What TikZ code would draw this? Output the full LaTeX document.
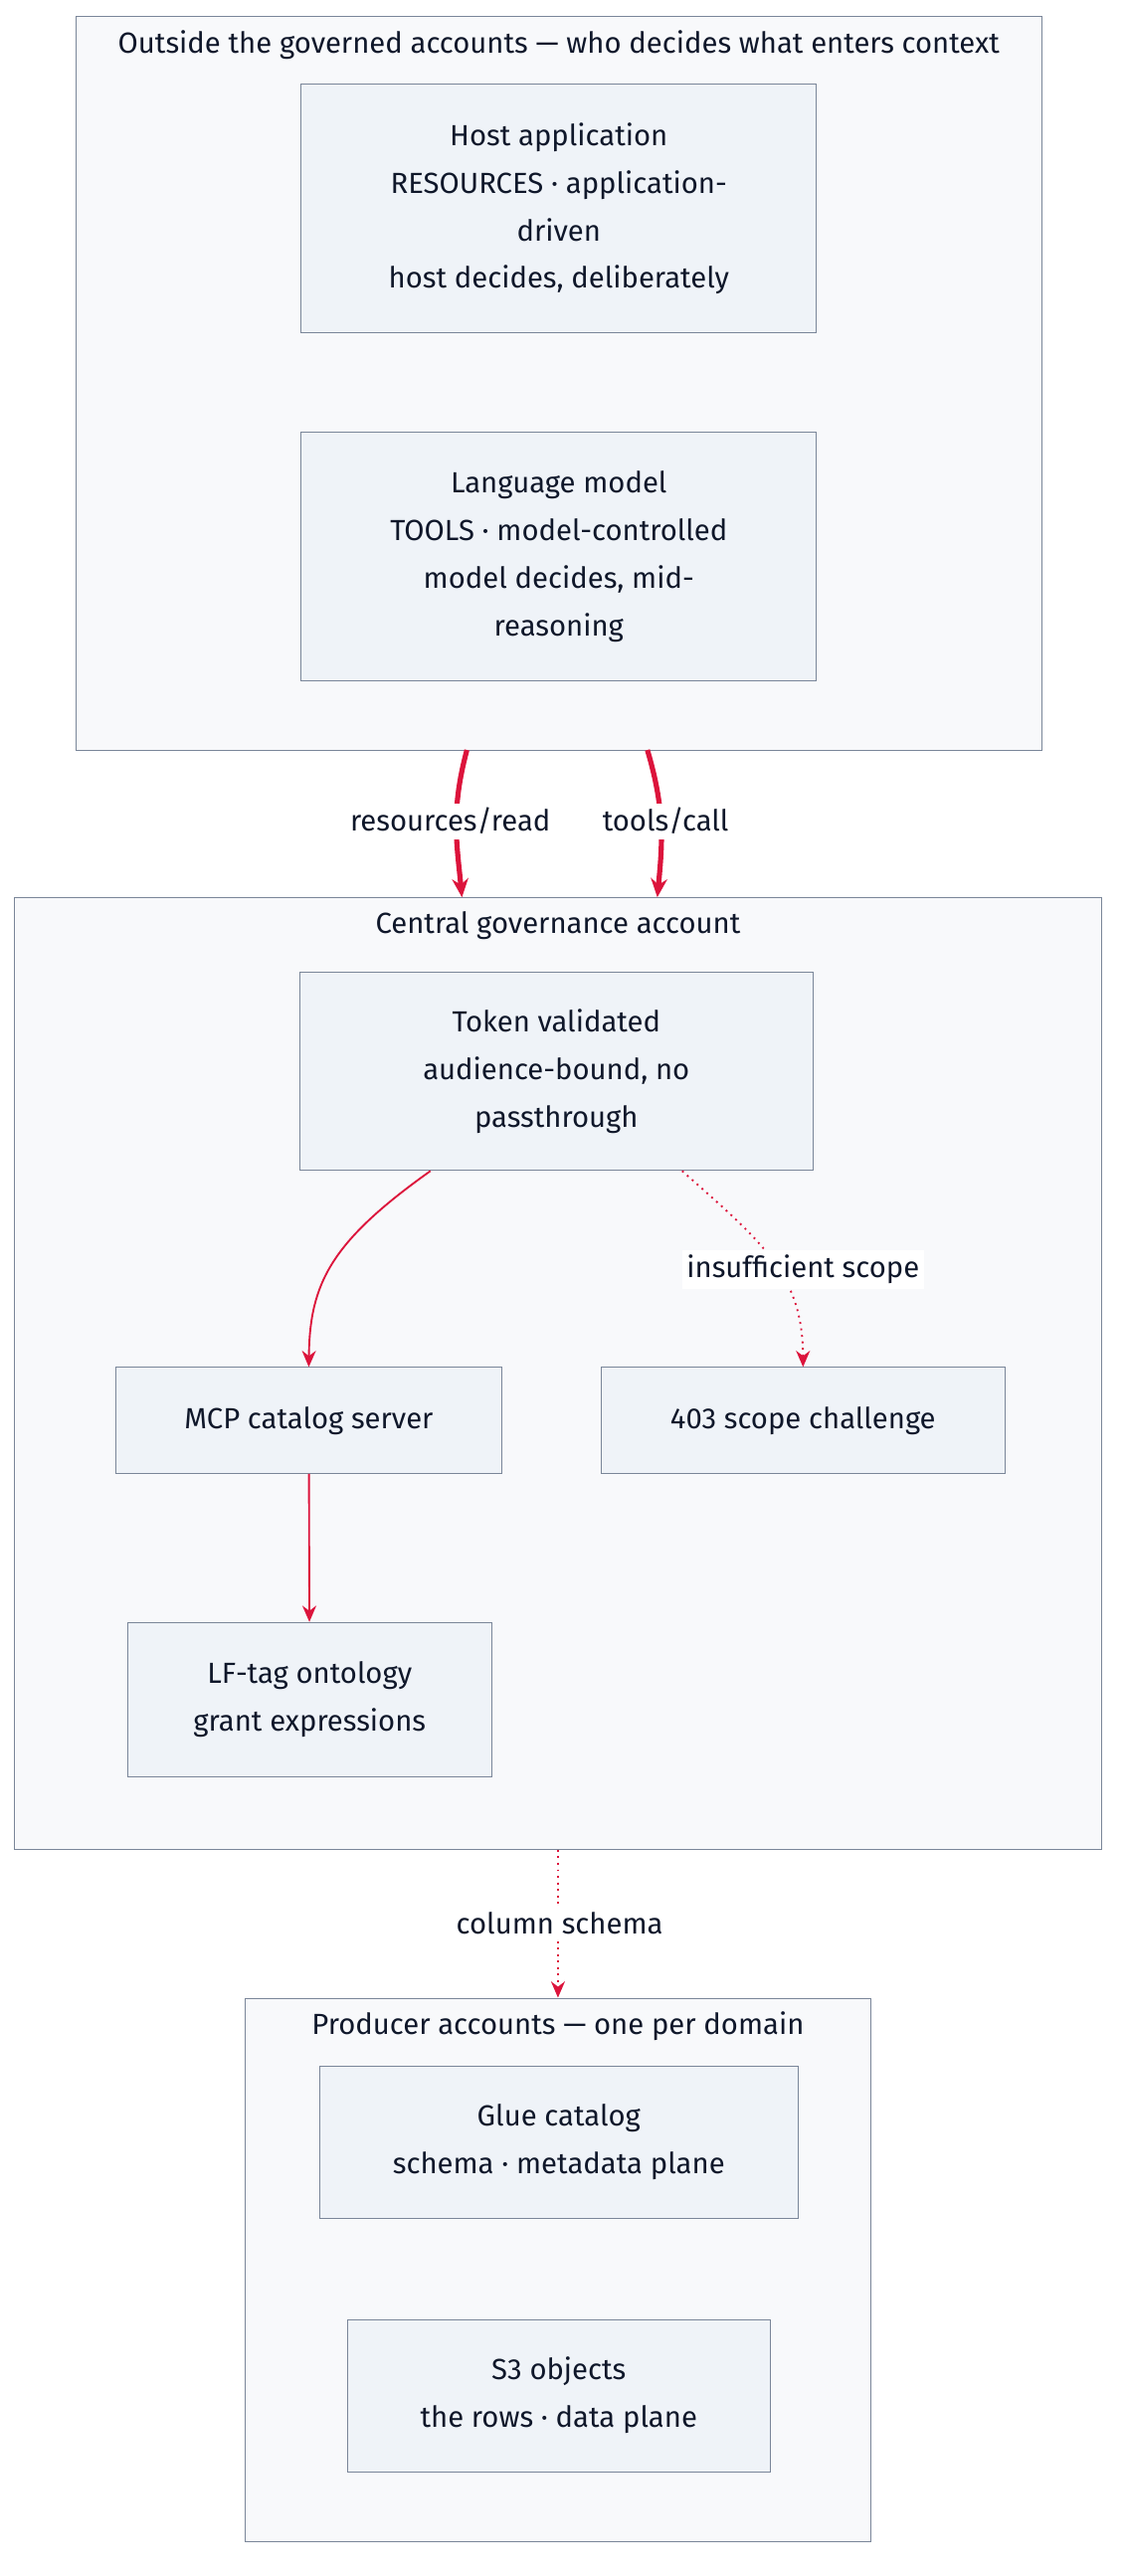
\documentclass[tikz,border=0pt]{standalone}
\usepackage{fontspec}
\setmainfont{Fira Sans}
\usetikzlibrary{positioning,calc,arrows.meta}
\definecolor{boxfill}{HTML}{EFF3F8}
\definecolor{clusterfill}{HTML}{F8F9FB}
\definecolor{edgegrey}{HTML}{7A8699}
\definecolor{inkdark}{HTML}{0F172A}
\definecolor{flow}{HTML}{DC143C}
\tikzset{
  box/.style={draw=edgegrey,fill=boxfill,align=center,text=inkdark,inner sep=2pt,
    font=\fontsize{12.5}{20.5}\selectfont},
  cluster/.style={draw=edgegrey,fill=clusterfill,inner sep=0pt},
  title/.style={text=inkdark,font=\fontsize{12.5}{15}\selectfont,inner sep=0pt},
  lbl/.style={fill=white,text=inkdark,font=\fontsize{12.5}{15}\selectfont,inner sep=2pt},
  flowthick/.style={draw=flow,line width=2.2pt,-{Stealth[length=8pt,width=7pt]}},
  flowthin/.style={draw=flow,line width=0.8pt,-{Stealth[length=7pt,width=6pt]}},
  flowdot/.style={draw=flow,line width=0.8pt,dotted,-{Stealth[length=7pt,width=6pt]}}
}
\begin{document}
\begin{tikzpicture}[x=0.025cm,y=-0.025cm]
  \useasboundingbox (0,0) rectangle (680,1556);
  % clusters
  \node (outside) [cluster,minimum width=14.575cm,minimum height=11.075cm] at (337.5,231.5) {};
  \node (central) [cluster,minimum width=16.4cm,minimum height=14.375cm] at (337,829.5) {};
  \node (producer) [cluster,minimum width=9.45cm,minimum height=8.2cm] at (337,1371) {};
  \node [title,below=6pt of outside.north] {Outside the governed accounts — who decides what enters context};
  \node [title,below=6pt of central.north] {Central governance account};
  \node [title,below=6pt of producer.north] {Producer accounts — one per domain};
  % nodes
  \node (host) [box,minimum width=7.775cm,minimum height=3.75cm] at (337.5,126)
    {Host application\\RESOURCES · application-\\driven\\host decides, deliberately};
  \node (model) [box,minimum width=7.775cm,minimum height=3.75cm] at (337.5,336)
    {Language model\\TOOLS · model-controlled\\model decides, mid-\\reasoning};
  \node (token) [box,minimum width=7.75cm,minimum height=3cm] at (336,647)
    {Token validated\\audience-bound, no\\passthrough};
  \node (mcp) [box,minimum width=5.825cm,minimum height=1.6cm] at (186.5,858) {MCP catalog server};
  \node (deny) [box,minimum width=6.1cm,minimum height=1.6cm] at (485,858) {403 scope challenge};
  \node (lftag) [box,minimum width=5.5cm,minimum height=2.325cm] at (187,1026.5) {LF-tag ontology\\grant expressions};
  \node (glue) [box,minimum width=7.225cm,minimum height=2.3cm] at (337.5,1294) {Glue catalog\\schema · metadata plane};
  \node (sthree) [box,minimum width=6.375cm,minimum height=2.3cm] at (337.5,1447) {S3 objects\\the rows · data plane};
  % connector ends on cluster borders
  \coordinate (rsrc) at (282,453);
  \coordinate (rsrcend) at (279,542);
  \coordinate (tool) at (391,453);
  \coordinate (toolend) at (397,542);
  % edges
  \draw[flowthick] (rsrc) .. controls (272,490) and (276,510) .. (rsrcend);
  \node[lbl] at (272,496) {resources/read};
  \draw[flowthick] (tool) .. controls (402,490) and (400,510) .. (toolend);
  \node[lbl] at (402,496) {tools/call};
  \draw[flowthin] ([xshift=-1.9cm]token.south) .. controls (200,750) and (187,775) .. (mcp.north);
  \draw[flowdot] ([xshift=1.9cm]token.south) .. controls (460,750) and (485,770) .. (deny.north);
  \node[lbl] at (485,767) {insufficient scope};
  \draw[flowthin] (mcp) -- (lftag);
  \draw[flowdot] (central.south) -- (producer.north);
  \node[lbl] at (338,1162) {column schema};
\end{tikzpicture}
\end{document}
